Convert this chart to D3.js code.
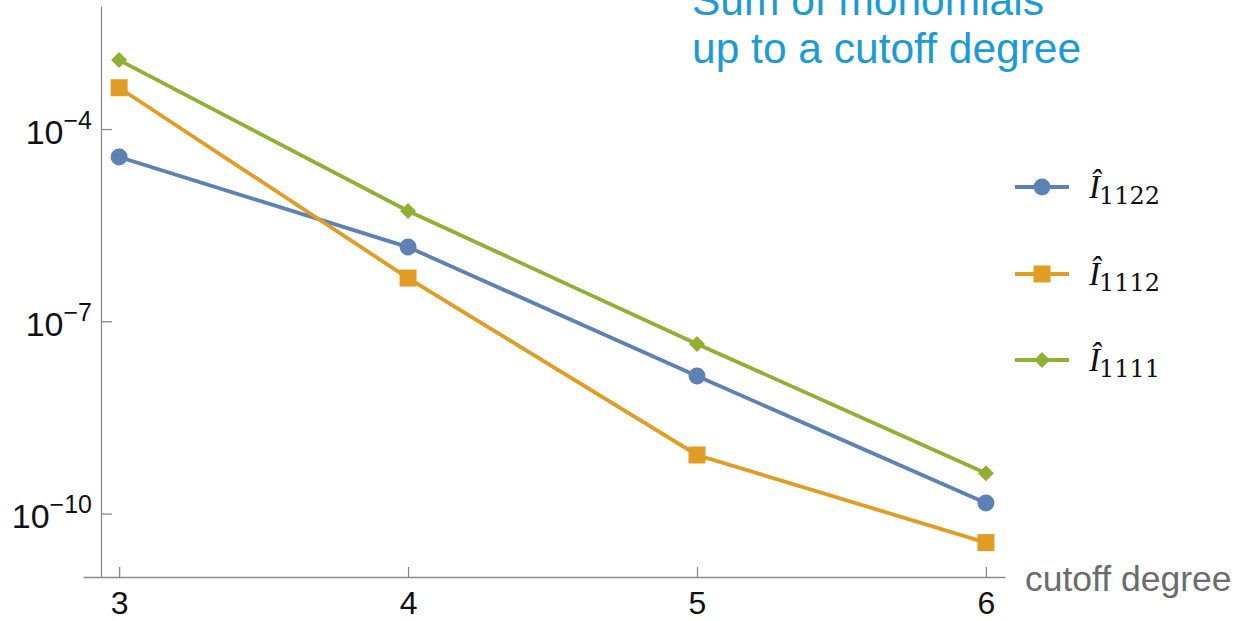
<!DOCTYPE html>
<html lang="en">
<head>
  <meta charset="UTF-8">
  <title>Sum of monomials up to a cutoff degree</title>
  <script src="https://d3js.org/d3.v7.min.js"></script>
  <style>
    body { margin: 0; background: #fff; }
    .axis path, .axis line { stroke: #8a8a8a; stroke-width: 1.3; }
    .axis text { font-family: "Liberation Sans", Arial, sans-serif; fill: #111; }
  </style>
</head>
<body>
<div id="chart"></div>
<script>
// data
const degrees = [3, 4, 5, 6];
const seriesNames = ["1122", "1112", "1111"];
const valuesI1122 = [3.66e-5, 1.44e-6, 1.40e-8, 1.46e-10];
const valuesI1112 = [4.41e-4, 4.73e-7, 8.20e-10, 3.52e-11];
const valuesI1111 = [1.19e-3, 5.26e-6, 4.43e-8, 4.26e-10];
const yTickExponents = [-4, -7, -10];
const titleLines = ["Sum of monomials", "up to a cutoff degree"];
const xLabel = "cutoff degree";

const W = 1236, H = 621;
const colors = ["#5e81b5", "#e19c24", "#8fb032"];
const shapes = ["circle", "square", "diamond"];

const svg = d3.select("#chart").append("svg")
  .attr("width", W).attr("height", H);

const x = d3.scaleLinear().domain([2.875, 6.066]).range([83, 1005]);
const y = d3.scaleLog().domain([Math.pow(10, -10.99), Math.pow(10, -2.08)]).range([577, 6]);

// x axis
const gx = svg.append("g").attr("class", "axis")
  .attr("transform", "translate(0,577)")
  .call(d3.axisBottom(x).tickValues(degrees).tickSize(-10).tickSizeOuter(0).tickFormat(d3.format("d")));
gx.selectAll("text").attr("y", 37).attr("dy", 0).style("font-size", "32px");

// y axis
const gy = svg.append("g").attr("class", "axis")
  .attr("transform", "translate(101,0)")
  .call(d3.axisLeft(y).tickValues(yTickExponents.map(e => Math.pow(10, e))).tickSize(-11).tickSizeOuter(0));
gy.selectAll(".tick text").each(function(d, i) {
  const t = d3.select(this).text(null)
    .attr("x", -9).attr("dy", 0).attr("y", 14)
    .attr("text-anchor", "end").style("font-size", "34px");
  t.append("tspan").text("10");
  t.append("tspan").attr("dy", -15).style("font-size", "25px")
    .text("\u2212" + Math.abs(yTickExponents[i]));
});

svg.append("text")
  .attr("x", 1025).attr("y", 591)
  .style("font-family", "Liberation Sans, Arial, sans-serif")
  .style("font-size", "35.5px").style("fill", "#6b6b6b")
  .text(xLabel);

// title (partly cut off at the top, as in the original)
svg.selectAll(".title").data(titleLines).join("text")
  .attr("class", "title")
  .attr("x", 692).attr("y", (d, i) => 15 + i * 48)
  .style("font-family", "Liberation Sans, Arial, sans-serif")
  .style("font-size", "42.5px").style("fill", "#1a9bd7")
  .text(d => d);

function drawMarker(g, shape, color) {
  if (shape === "circle") g.append("circle").attr("r", 8.5).attr("fill", color);
  else if (shape === "square") g.append("rect").attr("x", -8.5).attr("y", -8.5).attr("width", 17).attr("height", 17).attr("fill", color);
  else g.append("path").attr("d", "M0,-8L8,0L0,8L-8,0Z").attr("fill", color);
}

const allSeries = [valuesI1122, valuesI1112, valuesI1111];
const line = d3.line().x((d, i) => x(degrees[i])).y(d => y(d));

allSeries.forEach((vals, s) => {
  svg.append("path").datum(vals)
    .attr("d", line).attr("fill", "none")
    .attr("stroke", colors[s]).attr("stroke-width", 3.8);
  vals.forEach((v, i) => {
    const g = svg.append("g").attr("transform", `translate(${x(degrees[i])},${y(v)})`);
    drawMarker(g, shapes[s], colors[s]);
  });
});

// legend
const legendY = [187, 274, 360];
seriesNames.forEach((name, s) => {
  const g = svg.append("g").attr("transform", `translate(1015,${legendY[s]})`);
  g.append("line").attr("x1", 0).attr("x2", 54).attr("y1", 0).attr("y2", 0)
    .attr("stroke", colors[s]).attr("stroke-width", 3.8);
  const m = g.append("g").attr("transform", "translate(27,0)");
  drawMarker(m, shapes[s], colors[s]);
  const t = g.append("text").attr("x", 74).attr("y", 11)
    .style("font-family", "Liberation Serif, serif").style("fill", "#111");
  t.append("tspan").style("font-style", "italic").style("font-size", "33px").text("\u00ce");
  t.append("tspan").attr("dy", 6).attr("dx", -1)
    .style("font-family", "DejaVu Serif, serif").style("font-size", "24px").text(name);
});
</script>
</body>
</html>
